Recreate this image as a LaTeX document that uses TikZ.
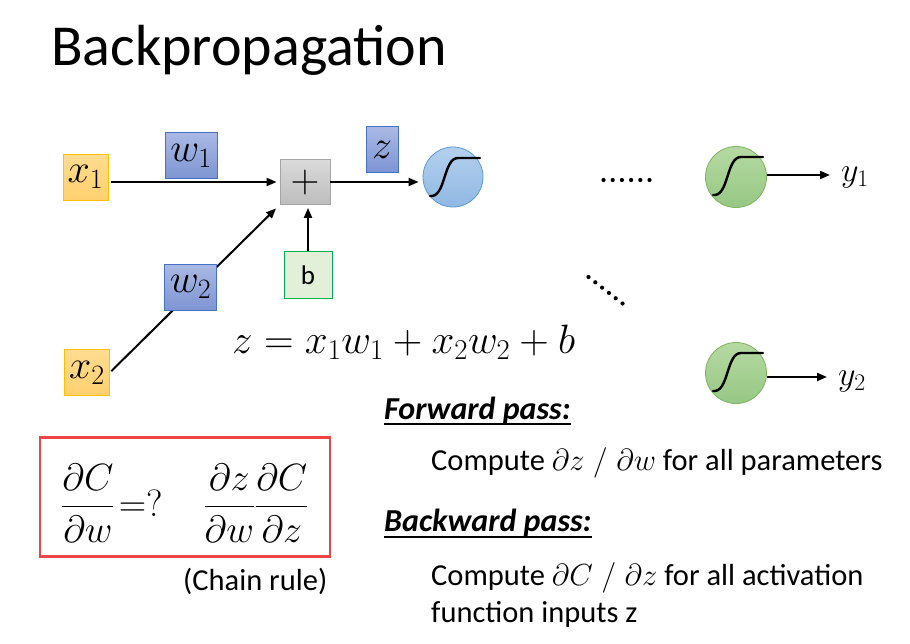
\RequirePackage{fix-cm}
\documentclass[tikz,border=0pt]{standalone}
\usepackage{amsmath}
\usepackage[no-math]{fontspec}
\setmainfont{Carlito}
\usetikzlibrary{arrows.meta,calc}
\definecolor{xtop}{HTML}{FFDC90}
\definecolor{xbot}{HTML}{FFD06E}
\definecolor{xline}{HTML}{FFC000}
\definecolor{wtop}{HTML}{AAB9E4}
\definecolor{wbot}{HTML}{7E95D3}
\definecolor{wline}{HTML}{4472C4}
\definecolor{ptop}{HTML}{DADADA}
\definecolor{pbot}{HTML}{BDBDBD}
\definecolor{pline}{HTML}{A5A5A5}
\definecolor{bfill}{HTML}{E2F0D9}
\definecolor{bline}{HTML}{00B050}
\definecolor{ctop}{HTML}{B4D0EE}
\definecolor{cbot}{HTML}{90B8E3}
\definecolor{cline}{HTML}{5B9BD5}
\definecolor{gtop}{HTML}{B5DAA2}
\definecolor{gbot}{HTML}{96C784}
\definecolor{gline}{HTML}{7DB55E}
\definecolor{redbox}{HTML}{F04444}
\newcommand{\slsh}{\mkern5mu/\mkern5mu}
\begin{document}
\begin{tikzpicture}[x=1pt,y=-1pt,
  arr/.style={line width=2pt,-{Triangle[length=10pt,width=8pt]}},
  mathlab/.style={font=\fontsize{40}{40}\selectfont},
  xbox/.style={draw=xline, line width=0.8pt, top color=xtop, bottom color=xbot, minimum width=45pt, minimum height=46pt, inner sep=0pt, mathlab},
  wbox/.style={draw=wline, line width=0.8pt, top color=wtop, bottom color=wbot, minimum width=52pt, minimum height=46pt, inner sep=0pt, mathlab},
  pbox/.style={draw=pline, line width=0.8pt, top color=ptop, bottom color=pbot, minimum width=50pt, minimum height=45pt, inner sep=0pt, mathlab},
  bbox/.style={draw=bline, line width=0.8pt, fill=bfill, minimum width=48pt, minimum height=47pt, inner sep=0pt, font=\fontsize{27}{27}\selectfont},
  bluecirc/.style={circle, draw=cline, line width=0.8pt, top color=ctop, bottom color=cbot, minimum size=60pt, inner sep=0pt},
  greencirc/.style={circle, draw=gline, line width=0.8pt, top color=gtop, bottom color=gbot, minimum size=61pt, inner sep=0pt},
  sigm/.pic={\draw[line width=2.4pt, line cap=round] (-23,19) .. controls (-7,21) and (-10,-19) .. (5,-19) -- (27,-19);},
  txt/.style={inner sep=0pt, anchor=base west, font=\fontsize{30.5}{36}\selectfont},
  head/.style={inner sep=0pt, anchor=base west, font=\fontsize{32}{36}\selectfont\bfseries\itshape},
  ul/.style={line width=1.6pt},
  dotc/.style={fill=black}
]
\useasboundingbox (0,0) rectangle (910,643);
\fill[white] (0,0) rectangle (910,643);

% title
\node[inner sep=0pt, anchor=base west, font=\fontsize{58}{58}\selectfont] (title) at (51,65) {Backpropagation};

% neuron
\node[xbox] (x1) at (85.5,177) {$x_1$};
\node[xbox] (x2) at (87,372.5) {$x_2$};
\node[pbox] (plus) at (305,182) {$+$};
\node[bbox] (b) at (308,275) {b};
\node[bluecirc] (sig) at (453,177) {};
\pic at (sig) {sigm};

\draw[arr, shorten <=3pt, shorten >=3pt] (x1.east |- plus.west) -- (plus.west);
\draw[arr, shorten >=4pt] (plus.east) -- (plus.east -| sig.west);
\draw[arr, shorten >=3pt] (b.north) -- (b.north |- plus.south);
\draw[arr, shorten <=2pt, shorten >=5pt] (x2.east) -- (plus.south west);

\node[wbox] (w2) at (190.5,287) {$w_2$};
\node[wbox] (w1) at (191,155.5) {$w_1$};
\node[wbox, minimum width=32pt] (z) at (382,149.5) {$z$};

\node[inner sep=0pt, anchor=base west, font=\fontsize{41}{41}\selectfont] (eq) at (232,353) {$z = x_1w_1 + x_2w_2 + b$};

% dots
\foreach \i in {0,...,5} \fill[dotc] ($(603.5,180)+(\i*9.2,0)$) circle (2.1);
\foreach \i in {0,...,5} \fill[dotc] ($(588.5,277)+(\i*6.8,\i*5.3)$) circle (2.1);

% output neurons
\node[greencirc] (g1) at (736,177) {};
\node[greencirc] (g2) at (736,373) {};
\pic at ($(g1)+(0,-1)$) {sigm};
\pic at ($(g2)+(0,-1)$) {sigm};
\coordinate (y1end) at (830,175);
\coordinate (y2end) at (827,377);
\draw[arr] (g1.east |- y1end) -- (y1end);
\draw[arr] (g2.east |- y2end) -- (y2end);
\node[inner sep=0pt, anchor=base west, font=\fontsize{34}{34}\selectfont] (y1) at (841,181) {$y_1$};
\node[inner sep=0pt, anchor=base west, font=\fontsize{34}{34}\selectfont] (y2) at (838,385) {$y_2$};

% chain rule box
\node[draw=redbox, line width=2.6pt, minimum width=290pt, minimum height=119pt, inner sep=0pt] (chainbox) at (185,497) {};
\node[inner sep=0pt, anchor=west, font=\fontsize{38}{38}\selectfont] (lhs) at (61,503) {$\dfrac{\partial C}{\partial w}\!=?$};
\node[inner sep=0pt, font=\fontsize{38}{38}\selectfont] (rhs) at (256,503) {$\dfrac{\partial z}{\partial w}\dfrac{\partial C}{\partial z}$};
\node[txt] (chain) at (183,590) {(Chain rule)};

% passes
\node[head] (fwd) at (384,419) {Forward pass:};
\draw[ul] ([yshift=-5pt]fwd.base west) -- ([yshift=-5pt]fwd.base east);
\node[txt] (fc) at (431,470) {Compute $\partial z\slsh\partial w$ for all parameters};
\node[head] (bwd) at (384,531) {Backward pass:};
\draw[ul] ([yshift=-6pt]bwd.base west) -- ([yshift=-6pt]bwd.base east);
\node[txt] (bc1) at (431,585) {Compute $\partial C\slsh\partial z$ for all activation};
\node[txt] (bc2) at (431,622) {function inputs z};
\end{tikzpicture}
\end{document}
